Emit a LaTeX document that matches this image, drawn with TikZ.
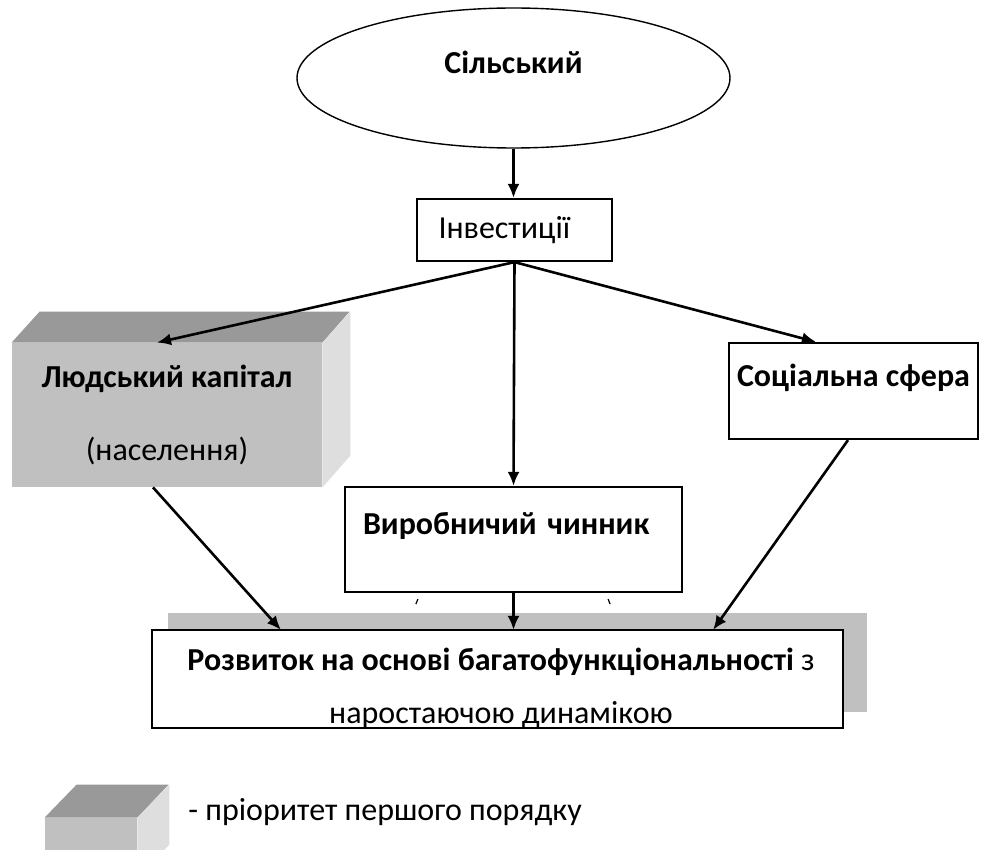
\documentclass[tikz,border=0pt]{standalone}
\usepackage{fontspec}
\setmainfont{Carlito}
\usetikzlibrary{arrows.meta,shapes.geometric,positioning}
\definecolor{topgray}{RGB}{153,153,153}
\definecolor{frontgray}{RGB}{192,192,192}
\definecolor{sidegray}{RGB}{222,222,222}

\begin{document}
\begin{tikzpicture}[x=0.5pt,y=-0.5pt,>={Latex[length=7pt,width=6pt]},
  every node/.style={font=\fontsize{16}{19.5}\selectfont},
  box/.style={draw,rectangle,fill=white,line width=1.1pt,inner sep=0pt},
  cube/.style={rectangle,fill=frontgray,inner sep=0pt},
  link/.style={->,line width=1.3pt}]
 \clip (0,0) rectangle (1008,850);

 \node[ellipse,draw,line width=0.7pt,minimum width=216.5pt,minimum height=70pt,
       text height=11pt,text depth=15.5pt] (selo) at (513.5,78) {\textbf{Сільський}};
 \node[box,minimum width=97.5pt,minimum height=31pt,text width=76pt,
       inner xsep=10.5pt,align=left] (invest) at (514.5,230) {Інвестиції};

 % front face, then top and side of the box
 \node[cube,minimum width=155pt,minimum height=72pt,align=center] (lyud) at (167,415)
      {\textbf{Людський капітал}\\[17pt](населення)};
 \fill[topgray] (lyud.north west) -- ++(28,-31) -- ++(310,0) -- (lyud.north east) -- cycle;
 \fill[sidegray] (lyud.north east) -- ++(28,-31) -- ++(0,144) -- (lyud.south east) -- cycle;

 \node[box,minimum width=124.5pt,minimum height=48pt,
       text height=11pt,text depth=15.4pt] (soc) at (853.5,391) {\textbf{Соціальна сфера}};
 \node[box,minimum width=168.5pt,minimum height=52.5pt,text width=150.5pt,inner xsep=9pt,
       align=left,text height=11pt,text depth=15.9pt] (vyrob) at (513.5,539.5)
      {\mbox{\textbf{Виробничий чинник}}};
 \draw[line width=0.6pt] ([shift={(72,11)}]vyrob.south west) -- ++(2,-5);
 \draw[line width=0.6pt] ([shift={(-73,11)}]vyrob.south east) -- ++(-2,-5);

 \node[cube,minimum width=349.5pt,minimum height=49.5pt] (rozvShade) at (517.5,662.5) {};
 \node[box,draw=none,minimum width=344.5pt,minimum height=48pt] (rozv) at (497.5,679) {};
 \begin{scope}
  \clip (rozv.south west) rectangle (rozv.north east);
  \node[anchor=base,inner sep=0pt] (rozvA) at (501,670)
       {\textbf{Розвиток на основі багатофункціональності} з};
  \node[anchor=base,inner sep=0pt] (rozvB) at (501,723) {наростаючою динамікою};
 \end{scope}
 \draw[line width=1.1pt] (rozv.south west) rectangle (rozv.north east);

 \draw[link] (selo.south) -- (selo.south |- invest.north);
 \draw[link] (invest.south) -- ([xshift=-5pt]lyud.north);
 \draw[link] (invest.south) -- (vyrob.north);
 \draw[link] (invest.south) -- ([xshift=44pt]soc.north west);
 \draw[link] ([xshift=-7pt]lyud.south) -- ([xshift=64.5pt]rozv.north west);
 \draw[link] (vyrob.south) -- (vyrob.south |- rozv.north);
 \draw[link] ([xshift=-2.75pt]soc.south) -- ([xshift=-65pt]rozv.north east);

 % legend
 \node[cube,minimum width=46pt,minimum height=30pt] (legCube) at (91,848) {};
 \fill[topgray] (legCube.north west) -- ++(32,-33) -- ++(92,0) -- (legCube.north east) -- cycle;
 \fill[sidegray] (legCube.north east) -- ++(32,-33) -- ++(0,60) -- (legCube.south east) -- cycle;
 \node[anchor=west,inner sep=0pt] (legText) at (188,812) {- пріоритет першого порядку};
\end{tikzpicture}
\end{document}
